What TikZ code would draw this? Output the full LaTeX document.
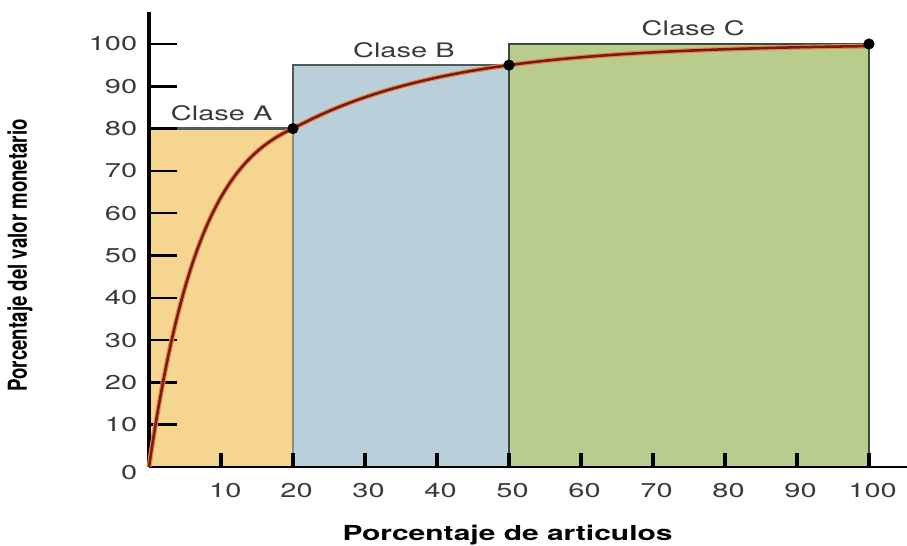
\documentclass[tikz,border=0pt]{standalone}
\usepackage{fontspec}
\setmainfont{TeX Gyre Heros}
\newfontfamily\widefont[FakeStretch=1.45]{TeX Gyre Heros}
\definecolor{claseA}{HTML}{F5D590}
\definecolor{claseB}{HTML}{B9CFD9}
\definecolor{claseC}{HTML}{B8CC8E}
\definecolor{bordeAB}{HTML}{8A8E7E}
\definecolor{bordeB}{HTML}{515C5A}
\definecolor{bordeC}{HTML}{3E4A3E}
\definecolor{curva}{HTML}{7A1A12}
\definecolor{halo}{HTML}{E5884E}
\definecolor{texto}{HTML}{3A3A3A}

\begin{document}
\begin{tikzpicture}[x=5.4pt,y=3.1725pt,
  borde/.style={line width=2pt},
  marcay/.style={line width=1.9pt},
  marcax/.style={line width=2.6pt},
  numero/.style={font=\widefont\fontsize{15}{18}\selectfont, text=texto, inner sep=0pt},
  clase/.style={font=\widefont\fontsize{15}{18}\selectfont, text=texto, inner sep=0pt}]
\useasboundingbox (-20.69,-18.44) rectangle (105.28,110.40);

\fill[claseA] (0,0) rectangle (20,80);
\fill[claseB] (20,0) rectangle (50,95);
\fill[claseC] (50,0) rectangle (100,100);
\draw[borde, bordeB] (0,80) -- (20,80);
\draw[borde, bordeAB] (20,0) -- (20,80);
\draw[borde, bordeB] (20,80) -- (20,95) -- (50,95);
\draw[borde, bordeC] (50,0) -- (50,100) -- (100,100) -- (100,0);

\draw[line width=3.5pt] (0,0) -- (0,107.6);
\draw[line width=2pt] (0,0) -- (105.28,0);

\draw[marcay] (0,10) -- (3.9,10);
\draw[marcay] (0,20) -- (3.9,20);
\draw[marcay] (0,30) -- (3.9,30);
\draw[marcay] (0,40) -- (3.9,40);
\draw[marcay] (0,50) -- (3.9,50);
\draw[marcay] (0,60) -- (3.9,60);
\draw[marcay] (0,70) -- (3.9,70);
\draw[marcay] (0,80) -- (3.9,80);
\draw[marcay] (0,90) -- (3.9,90);
\draw[marcay] (0,100) -- (3.9,100);
\draw[marcax] (10,0) -- (10,3.3);
\draw[marcax] (20,0) -- (20,3.3);
\draw[marcax] (30,0) -- (30,3.3);
\draw[marcax] (40,0) -- (40,3.3);
\draw[marcax] (50,0) -- (50,3.3);
\draw[marcax] (60,0) -- (60,3.3);
\draw[marcax] (70,0) -- (70,3.3);
\draw[marcax] (80,0) -- (80,3.3);
\draw[marcax] (90,0) -- (90,3.3);
\draw[marcax] (100,0) -- (100,3.3);

\node[numero, anchor=east] (y0) at (-1.6,-1.2) {0};
\node[numero, anchor=east] (y10) at (-1.6,10) {10};
\node[numero, anchor=east] (y20) at (-1.6,20) {20};
\node[numero, anchor=east] (y30) at (-1.6,30) {30};
\node[numero, anchor=east] (y40) at (-1.6,40) {40};
\node[numero, anchor=east] (y50) at (-1.6,50) {50};
\node[numero, anchor=east] (y60) at (-1.6,60) {60};
\node[numero, anchor=east] (y70) at (-1.6,70) {70};
\node[numero, anchor=east] (y80) at (-1.6,80) {80};
\node[numero, anchor=east] (y90) at (-1.6,90) {90};
\node[numero, anchor=east] (y100) at (-1.6,100) {100};
\node[numero] (x10) at (10.6,-5.5) {10};
\node[numero] (x20) at (20.5,-5.5) {20};
\node[numero] (x30) at (30.5,-5.5) {30};
\node[numero] (x40) at (40.5,-5.5) {40};
\node[numero] (x50) at (50.5,-5.5) {50};
\node[numero] (x60) at (60.5,-5.5) {60};
\node[numero] (x70) at (70.5,-5.5) {70};
\node[numero] (x80) at (80.5,-5.5) {80};
\node[numero] (x90) at (90.5,-5.5) {90};
\node[numero] (x100) at (100.5,-5.5) {100};

\node[font=\widefont\fontsize{15.5}{18}\bfseries, anchor=base] (ejex) at (49.8,-17.3) {Porcentaje de articulos};
\node[font=\fontsize{14}{17}\bfseries, rotate=90, yscale=1.4] (ejey) at (-17.9,50) {Porcentaje del valor monetario};

\node[clase] (claseA) at (10.1,83.6) {Clase A};
\node[clase] (claseB) at (35.4,98.6) {Clase B};
\node[clase] (claseC) at (75.6,103.7) {Clase C};

% curva de Pareto
\draw[curva, line width=1.9pt, preaction={draw=halo, line width=3.6pt}]
  plot[domain=0:20, samples=60] (\x, {85.52*(1-exp(-\x/7.3))})
  -- plot[domain=20:100, samples=80] (\x, {100-50.4*exp(-\x/21.64)});

\coordinate (pA) at (20,80);
\coordinate (pB) at (50,95);
\coordinate (pC) at (100,100);
\fill (pA) circle[radius=4.2pt];
\fill (pB) circle[radius=4.2pt];
\fill (pC) circle[radius=4.2pt];
\end{tikzpicture}
\end{document}
